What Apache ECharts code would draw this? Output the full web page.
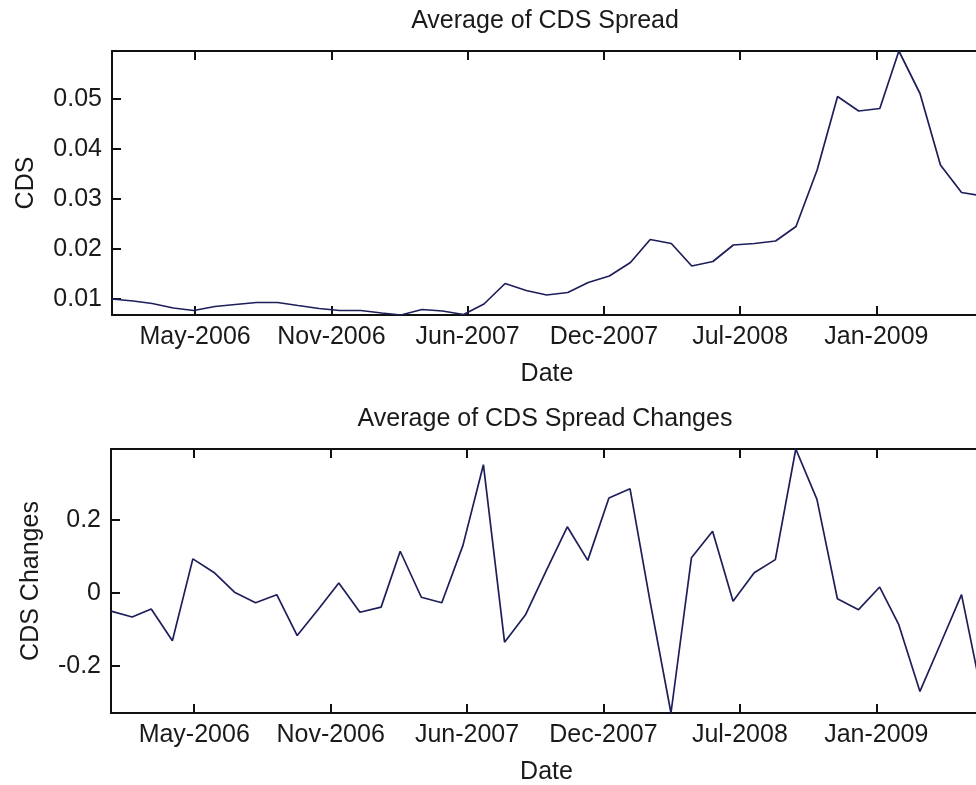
<!DOCTYPE html>
<html>
<head>
<meta charset="utf-8">
<script src="https://cdn.jsdelivr.net/npm/echarts@6/dist/echarts.min.js"></script>
<style>
html,body{margin:0;padding:0;background:#fff;}
#chart{width:976px;height:785px;}
</style>
</head>
<body>
<div id="chart"></div>
<script>
// Monthly observation dates
var dates = [
  '2006-01-01','2006-02-01','2006-03-01','2006-04-01','2006-05-01','2006-06-01','2006-07-01','2006-08-01','2006-09-01','2006-10-01','2006-11-01','2006-12-01',
  '2007-01-01','2007-02-01','2007-03-01','2007-04-01','2007-05-01','2007-06-01','2007-07-01','2007-08-01','2007-09-01','2007-10-01','2007-11-01','2007-12-01',
  '2008-01-01','2008-02-01','2008-03-01','2008-04-01','2008-05-01','2008-06-01','2008-07-01','2008-08-01','2008-09-01','2008-10-01','2008-11-01','2008-12-01',
  '2009-01-01','2009-02-01','2009-03-01','2009-04-01','2009-05-01','2009-06-01','2009-07-01'
];
// Average CDS spread level
var cdsSpread = [
  0.0100,0.0096,0.0091,0.0082,0.0077,0.0085,0.0089,0.0093,0.0093,0.0087,0.0081,0.0077,
  0.0077,0.0072,0.0068,0.0079,0.0076,0.0069,0.0090,0.0131,0.0117,0.0108,0.0113,0.0133,
  0.0146,0.0173,0.0219,0.0211,0.0166,0.0175,0.0208,0.0211,0.0216,0.0245,0.0358,0.0505,
  0.0476,0.0481,0.0596,0.0511,0.0368,0.0313,0.0306
];
// Average CDS spread changes
var cdsChanges = [
  -0.050,-0.066,-0.044,-0.131,0.093,0.056,0.002,-0.027,-0.005,-0.117,-0.045,0.027,
  -0.053,-0.039,0.114,-0.012,-0.027,0.130,0.351,-0.135,-0.059,0.060,0.181,0.089,
  0.260,0.285,-0.020,-0.329,0.096,0.169,-0.023,0.055,0.091,0.394,0.256,-0.016,
  -0.046,0.016,-0.087,-0.270,-0.140,-0.005,-0.280
];
// Date axis ticks
var tickDates = ['2006-05-03','2006-11-19','2007-06-07','2007-12-24','2008-07-11','2009-01-27'];
var tickLabels = ['May-2006','Nov-2006','Jun-2007','Dec-2007','Jul-2008','Jan-2009'];
var spreadTicks = [0.01,0.02,0.03,0.04,0.05];
var changeTicks = [-0.2,0,0.2];

function ts(s){var p=s.split('-');return Date.UTC(+p[0],+p[1]-1,+p[2]);}
var times = dates.map(ts);
var tickTimes = tickDates.map(ts);

var FONT = 'Liberation Sans, Arial, sans-serif';
var FS = 25;
var TXT = '#1a1a1a';
var LINE = '#1e1e5a';
var axisLineStyle = {color:'#111', width:2};

function xAxes(gridIndex){
  var base = {
    type:'value', gridIndex:gridIndex,
    min: times[0], max: times[times.length-1],
    splitLine:{show:false},
    axisLine:{show:true, onZero:false, lineStyle:axisLineStyle},
    axisTick:{show:true, inside:true, length:9, customValues:tickTimes, lineStyle:{color:'#111', width:2}},
    axisPointer:{show:false}
  };
  var bottom = Object.assign({}, base, {
    position:'bottom',
    axisLabel:{show:true, customValues:tickTimes, margin:10, color:TXT, fontSize:FS, fontFamily:FONT,
      formatter:function(v){var i=tickTimes.indexOf(+v);return i>=0?tickLabels[i]:'';}},
    name:'Date', nameLocation:'middle', nameGap:47,
    nameTextStyle:{color:TXT, fontSize:FS, fontFamily:FONT}
  });
  var top = Object.assign({}, base, {position:'top', axisLabel:{show:false}});
  return [bottom, top];
}
function yAxes(gridIndex, ticks, name, gap, fmt){
  var base = {
    type:'value', gridIndex:gridIndex,
    min:'dataMin', max:'dataMax', scale:true,
    splitLine:{show:false},
    axisLine:{show:true, onZero:false, lineStyle:axisLineStyle},
    axisTick:{show:true, inside:true, length:9, customValues:ticks, lineStyle:{color:'#111', width:2}}
  };
  var left = Object.assign({}, base, {
    position:'left',
    axisLabel:{show:true, customValues:ticks, margin:10, color:TXT, fontSize:FS, fontFamily:FONT, formatter:fmt},
    name:name, nameLocation:'middle', nameRotate:90, nameGap:gap,
    nameTextStyle:{color:TXT, fontSize:FS, fontFamily:FONT}
  });
  var right = Object.assign({}, base, {position:'right', axisLabel:{show:false}});
  return [left, right];
}

var xa = xAxes(0).concat(xAxes(1));
var ya = yAxes(0, spreadTicks, 'CDS', 73, function(v){return (+v).toFixed(2);})
  .concat(yAxes(1, changeTicks, 'CDS Changes', 67, function(v){return Math.abs(+v)<1e-9?'0':(+v).toFixed(1);}));

var option = {
  backgroundColor:'#fff',
  animation:false,
  title:[
    {text:'Average of CDS Spread', left:540, top:4, textAlign:'center',
     textStyle:{color:TXT, fontSize:FS, fontWeight:'normal', fontFamily:FONT}},
    {text:'Average of CDS Spread Changes', left:540, top:402, textAlign:'center',
     textStyle:{color:TXT, fontSize:FS, fontWeight:'normal', fontFamily:FONT}}
  ],
  grid:[
    {left:112, width:870, top:51, height:264, containLabel:false, outerBoundsMode:'none'},
    {left:111, width:871, top:449, height:264, containLabel:false, outerBoundsMode:'none'}
  ],
  xAxis: xa,
  yAxis: ya,
  series:[
    {type:'line', xAxisIndex:0, yAxisIndex:0, showSymbol:false, symbol:'none',
     data: times.map(function(t,i){return [t, cdsSpread[i]];}),
     lineStyle:{color:LINE, width:1.7}},
    {type:'line', xAxisIndex:2, yAxisIndex:2, showSymbol:false, symbol:'none',
     data: times.map(function(t,i){return [t, cdsChanges[i]];}),
     lineStyle:{color:LINE, width:1.7}}
  ]
};
var chart = echarts.init(document.getElementById('chart'));
chart.setOption(option);
</script>
</body>
</html>
